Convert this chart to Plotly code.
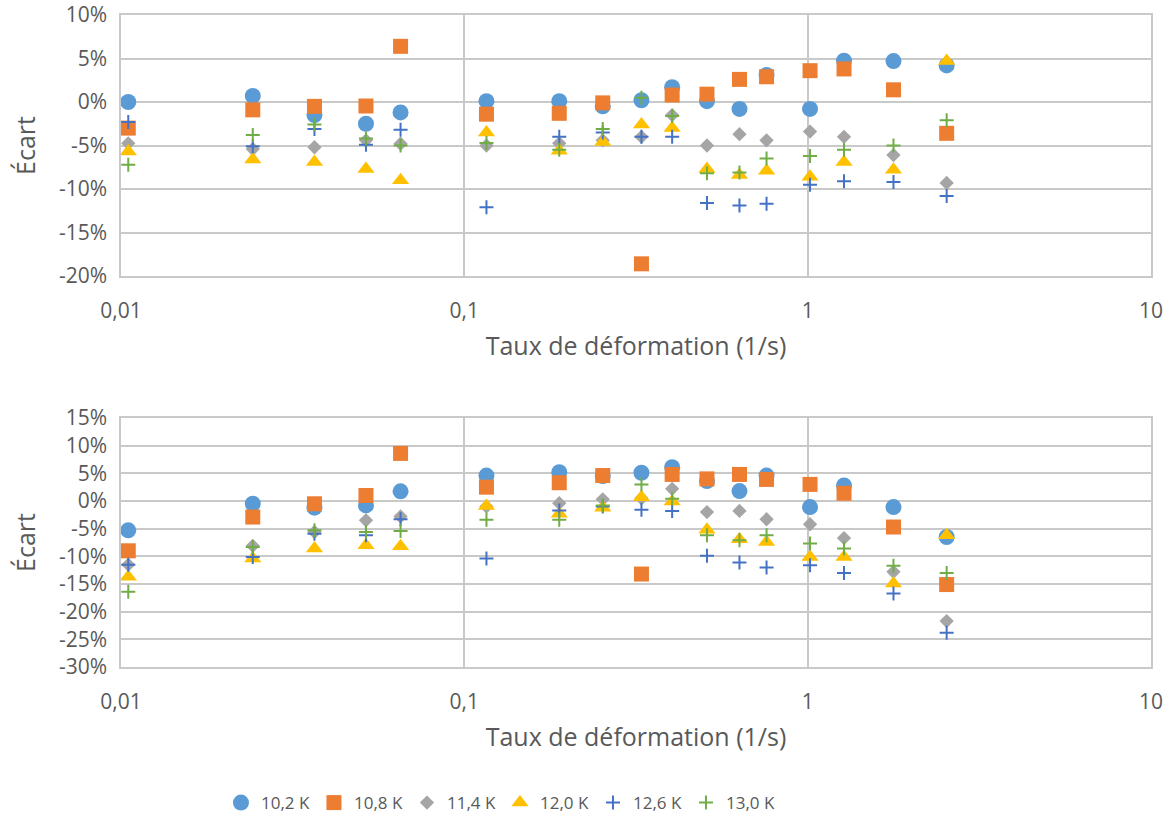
import plotly.graph_objects as go
from plotly.subplots import make_subplots

# ---------------- data ----------------
rates = [0.0105, 0.0242, 0.0366, 0.0517, 0.0652, 0.116, 0.189, 0.253, 0.328,
         0.403, 0.509, 0.633, 0.759, 1.016, 1.276, 1.778, 2.54]

series_names = ["10,2 K", "10,8 K", "11,4 K", "12,0 K", "12,6 K", "13,0 K"]

# top chart (fraction)
top_102 = [0.000, 0.007, -0.015, -0.025, -0.012, 0.001, 0.001, -0.005, 0.002, 0.017, 0.001, -0.008, 0.031, -0.008, 0.0475, 0.047, 0.042]
top_108 = [-0.030, -0.009, -0.005, -0.0046, 0.064, -0.014, -0.013, -0.001, -0.186, 0.008, 0.009, 0.026, 0.029, 0.036, 0.038, 0.014, -0.036]
top_114 = [-0.0475, -0.054, -0.052, -0.044, -0.048, -0.050, -0.0475, -0.044, -0.040, -0.015, -0.050, -0.037, -0.044, -0.034, -0.040, -0.061, -0.093]
top_120 = [-0.057, -0.066, -0.069, -0.077, -0.090, -0.035, -0.056, -0.046, -0.026, -0.030, -0.077, -0.084, -0.079, -0.086, -0.069, -0.078, 0.047]
top_126 = [-0.023, -0.051, -0.031, -0.049, -0.032, -0.121, -0.040, -0.035, -0.040, -0.040, -0.116, -0.119, -0.117, -0.095, -0.091, -0.092, -0.108]
top_130 = [-0.072, -0.038, -0.026, -0.042, -0.050, -0.047, -0.055, -0.031, 0.005, -0.016, -0.082, -0.081, -0.065, -0.062, -0.055, -0.050, -0.021]

# bottom chart (fraction)
bot_102 = [-0.053, -0.005, -0.012, -0.008, 0.0175, 0.046, 0.052, 0.045, 0.051, 0.061, 0.036, 0.018, 0.046, -0.011, 0.028, -0.011, -0.065]
bot_108 = [-0.090, -0.029, -0.005, 0.010, 0.086, 0.025, 0.033, 0.046, -0.132, 0.048, 0.040, 0.048, 0.039, 0.030, 0.014, -0.047, -0.151]
bot_114 = [-0.115, -0.081, -0.056, -0.035, -0.028, -0.010, -0.004, 0.003, 0.005, 0.022, -0.020, -0.018, -0.033, -0.042, -0.067, -0.128, -0.217]
bot_120 = [-0.137, -0.104, -0.086, -0.080, -0.082, -0.009, -0.023, -0.012, 0.007, -0.001, -0.052, -0.069, -0.074, -0.101, -0.101, -0.149, -0.062]
bot_126 = [-0.115, -0.101, -0.059, -0.062, -0.033, -0.104, -0.017, -0.010, -0.016, -0.018, -0.099, -0.111, -0.120, -0.116, -0.130, -0.167, -0.238]
bot_130 = [-0.164, -0.083, -0.053, -0.056, -0.054, -0.034, -0.034, -0.008, 0.030, 0.004, -0.062, -0.071, -0.062, -0.077, -0.086, -0.117, -0.130]

x_tickvals = [0.01, 0.1, 1, 10]
x_ticktext = ["0,01", "0,1", "1", "10"]
top_tickvals = [0.10, 0.05, 0.0, -0.05, -0.10, -0.15, -0.20]
top_ticktext = ["10%", "5%", "0%", "-5%", "-10%", "-15%", "-20%"]
bot_tickvals = [0.15, 0.10, 0.05, 0.0, -0.05, -0.10, -0.15, -0.20, -0.25, -0.30]
bot_ticktext = ["15%", "10%", "5%", "0%", "-5%", "-10%", "-15%", "-20%", "-25%", "-30%"]

x_title = "Taux de déformation (1/s)"
y_title = "Écart"

# ---------------- styles ----------------
styles = [
    dict(symbol="circle", size=16, color="#5B9BD5"),
    dict(symbol="square", size=15, color="#ED7D31"),
    dict(symbol="diamond", size=11, color="#A5A5A5"),
    dict(symbol="triangle-up", size=15, color="#FFC000"),
    dict(symbol="cross-thin", size=10, color="#4472C4"),
    dict(symbol="cross-thin", size=10, color="#70AD47"),
]

top_data = [top_102, top_108, top_114, top_120, top_126, top_130]
bot_data = [bot_102, bot_108, bot_114, bot_120, bot_126, bot_130]

fig = make_subplots(rows=2, cols=1)

for row, data in ((1, top_data), (2, bot_data)):
    for name, vals, st in zip(series_names, data, styles):
        if st["symbol"] == "cross-thin":
            marker = dict(symbol="cross-thin", size=st["size"],
                          line=dict(color=st["color"], width=2), color=st["color"])
        else:
            marker = dict(symbol=st["symbol"], size=st["size"], color=st["color"],
                          line=dict(width=0))
        fig.add_trace(go.Scatter(x=rates, y=vals, mode="markers", name=name,
                                 marker=marker, showlegend=(row == 1),
                                 legendgroup=name), row=row, col=1)

grid = "#c9c9c9"
tickfont = dict(family="Open Sans", size=21, color="#595959")
titlefont = dict(family="Open Sans", size=25, color="#595959")

for r in (1, 2):
    fig.update_xaxes(type="log", range=[-2, 1], tickvals=x_tickvals, ticktext=x_ticktext,
                     showgrid=True, gridcolor=grid, gridwidth=1.5,
                     showline=True, linecolor=grid, linewidth=1.5, mirror=True,
                     ticks="", tickfont=tickfont, ticklabelstandoff=15, automargin=False,
                     ticklabeloverflow="allow",
                     title=dict(text=x_title, font=titlefont, standoff=15),
                     row=r, col=1)

fig.update_yaxes(range=[-0.20, 0.10], tickvals=top_tickvals, ticktext=top_ticktext,
                 row=1, col=1)
fig.update_yaxes(range=[-0.30, 0.15], tickvals=bot_tickvals, ticktext=bot_ticktext,
                 row=2, col=1)
for r in (1, 2):
    fig.update_yaxes(showgrid=True, gridcolor=grid, gridwidth=1.5, zeroline=False,
                     showline=True, linecolor=grid, linewidth=1.5, mirror=True,
                     ticks="", tickfont=tickfont, ticklabelstandoff=8, automargin=False,
                     ticklabeloverflow="allow",
                     title=dict(text=y_title, font=titlefont, standoff=16),
                     row=r, col=1)

fig.update_layout(
    width=1175, height=820,
    margin=dict(l=121, r=24, t=15, b=153),
    paper_bgcolor="white", plot_bgcolor="white",
    xaxis=dict(domain=[0, 1]), xaxis2=dict(domain=[0, 1]),
    yaxis=dict(domain=[0.5997, 1.0]), yaxis2=dict(domain=[0.0, 0.3819]),
    legend=dict(orientation="h", xref="container", yref="container",
                x=0.4255, y=0.0207, xanchor="center", yanchor="middle",
                font=dict(family="Open Sans", size=17, color="#595959"),
                itemwidth=30, entrywidth=48, entrywidthmode="pixels", tracegroupgap=0),
)

# remove the default page margin so the figure sits at the window's corner
fig.write_html("out.html", config={"displayModeBar": False},
               post_script="document.body.style.margin='0';")
